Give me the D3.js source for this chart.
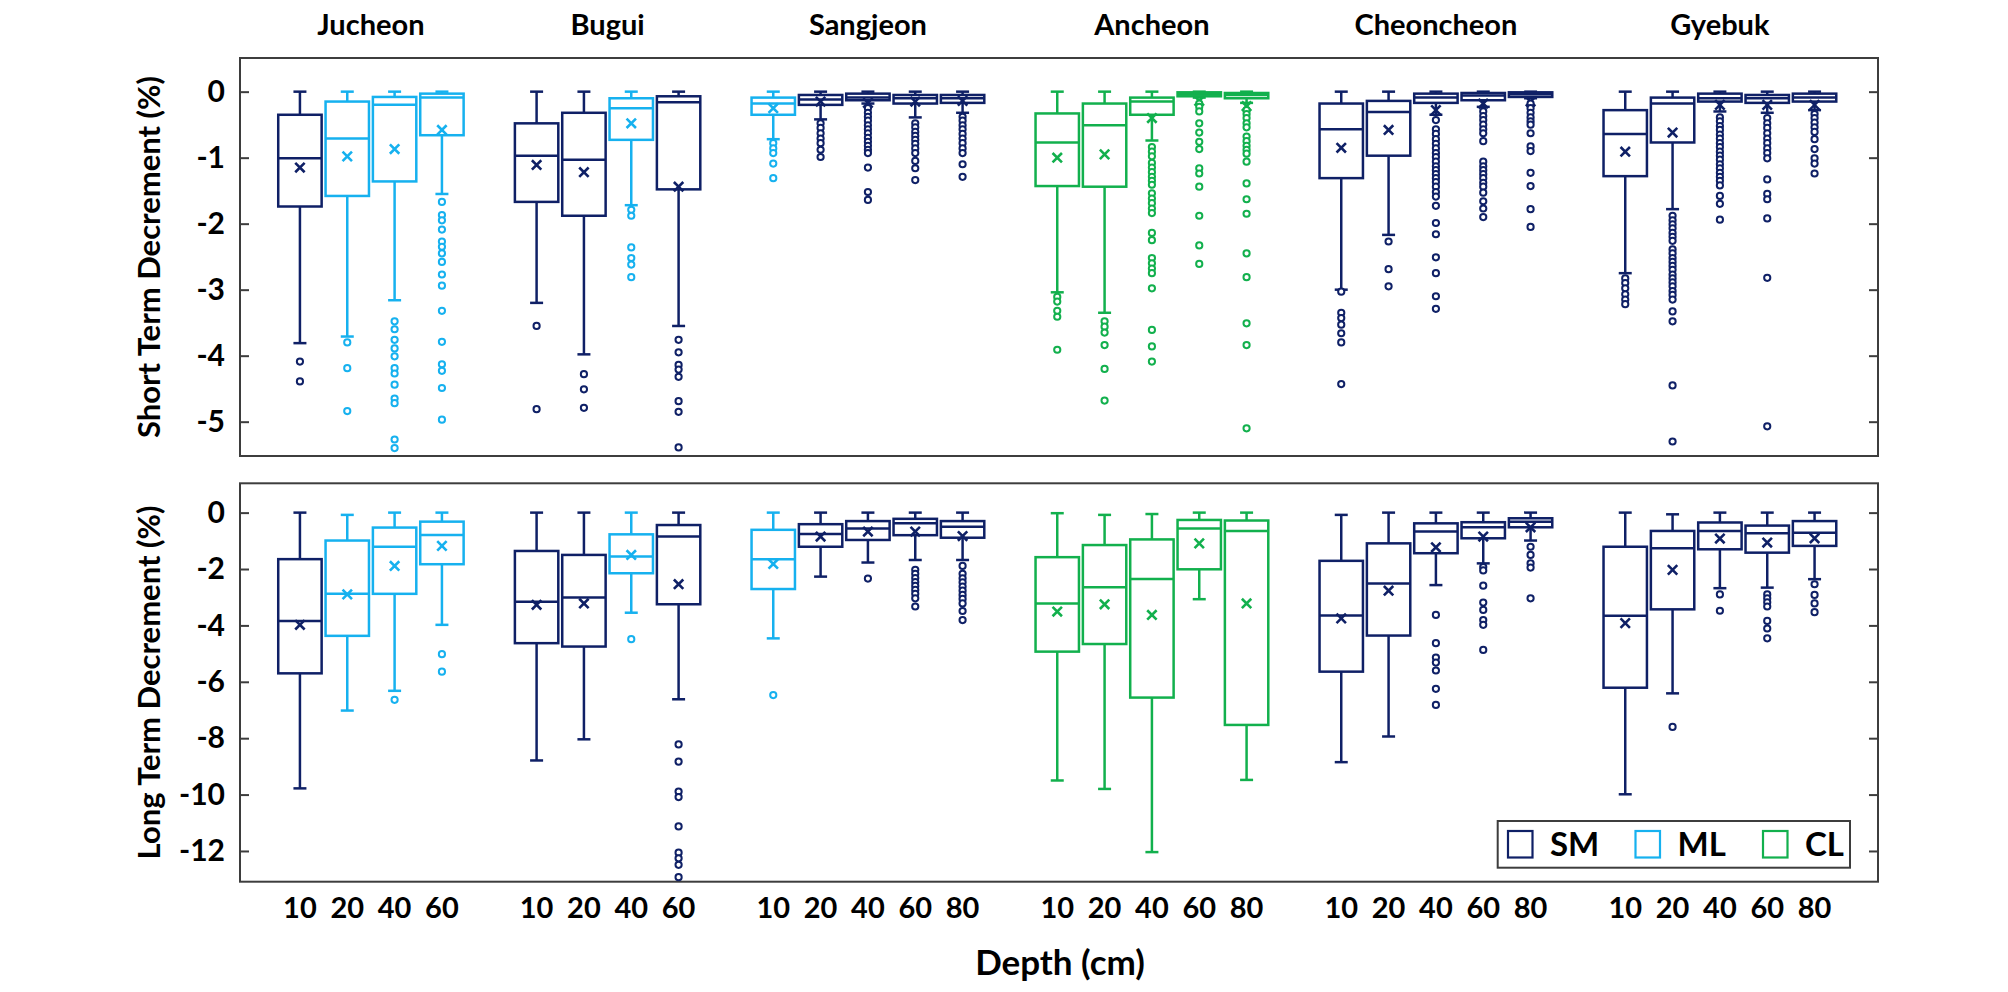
<!DOCTYPE html>
<html>
<head>
<meta charset="utf-8">
<script src="https://cdn.jsdelivr.net/npm/d3@7"></script>
<style>
  html, body { margin: 0; padding: 0; background: #fff; }
  svg text { font-family: Lato, "Open Sans", sans-serif; font-weight: 700; fill: #000; }
</style>
</head>
<body>
<svg id="chart" width="2008" height="992"></svg>
<script>
// ── Data ─────────────────────────────────
const sites = ['Jucheon', 'Bugui', 'Sangjeon', 'Ancheon', 'Cheoncheon', 'Gyebuk'];
const depths = [[10, 20, 40, 60], [10, 20, 40, 60], [10, 20, 40, 60, 80], [10, 20, 40, 60, 80], [10, 20, 40, 60, 80], [10, 20, 40, 60, 80]];
const soils = [
  ['SM', 'ML', 'ML', 'ML'],
  ['SM', 'SM', 'ML', 'SM'],
  ['ML', 'SM', 'SM', 'SM', 'SM'],
  ['CL', 'CL', 'CL', 'CL', 'CL'],
  ['SM', 'SM', 'SM', 'SM', 'SM'],
  ['SM', 'SM', 'SM', 'SM', 'SM']
];
const soilTypes = ['SM', 'ML', 'CL'];
const shortTicks = [0, -1, -2, -3, -4, -5];
const longTicks = [0, -2, -4, -6, -8, -10, -12];

// box stats: [upper whisker, Q3, median, Q1, lower whisker, mean]
const shortBoxes = [
  [0, -0.35, -1.01, -1.74, -3.81, -1.15], [0, -0.15, -0.71, -1.58, -3.71, -0.98], [0, -0.08, -0.20, -1.36, -3.16, -0.87], [0, -0.03, -0.09, -0.66, -1.55, -0.58],
  [0, -0.48, -0.97, -1.67, -3.20, -1.11], [0, -0.32, -1.03, -1.88, -3.98, -1.22], [0, -0.10, -0.25, -0.73, -1.72, -0.48], [0, -0.07, -0.16, -1.48, -3.55, -1.44],
  [0, -0.09, -0.18, -0.35, -0.72, -0.25], [0, -0.05, -0.12, -0.20, -0.42, -0.15], [0, -0.03, -0.09, -0.13, -0.18, -0.17], [0, -0.05, -0.10, -0.18, -0.39, -0.15], [0, -0.05, -0.10, -0.17, -0.32, -0.14],
  [0, -0.33, -0.77, -1.43, -3.04, -1.00], [0, -0.18, -0.51, -1.44, -3.35, -0.95], [0, -0.09, -0.15, -0.35, -0.74, -0.40], [0, -0.01, -0.04, -0.07, -0.09, -0.14], [0, -0.02, -0.05, -0.10, -0.17, -0.22],
  [0, -0.18, -0.57, -1.31, -3.00, -0.85], [0, -0.14, -0.31, -0.97, -2.17, -0.58], [0, -0.03, -0.09, -0.17, -0.35, -0.28], [0, -0.02, -0.06, -0.13, -0.23, -0.18], [0, -0.01, -0.04, -0.08, -0.10, -0.15],
  [0, -0.28, -0.64, -1.28, -2.75, -0.91], [0, -0.09, -0.18, -0.77, -1.78, -0.62], [0, -0.03, -0.10, -0.15, -0.30, -0.20], [0, -0.05, -0.10, -0.17, -0.32, -0.20], [0, -0.03, -0.09, -0.15, -0.28, -0.20]
];
const shortOutliers = [
  [-4.09, -4.39], [-3.80, -4.19, -4.84],
  [-3.48, -3.60, -3.76, -3.89, -4.01, -4.19, -4.27, -4.44, -4.65, -4.72, -5.27, -5.40],
  [-1.67, -1.87, -1.95, -2.09, -2.27, -2.35, -2.45, -2.58, -2.77, -2.94, -3.32, -3.79, -4.13, -4.23, -4.49, -4.97],
  [-3.55, -4.81], [-4.28, -4.51, -4.79], [-1.79, -1.88, -2.36, -2.52, -2.62, -2.81],
  [-3.76, -3.95, -4.14, -4.21, -4.32, -4.69, -4.85, -5.39],
  [-0.78, -0.86, -0.93, -1.09, -1.31],
  [-0.48, -0.55, -0.63, -0.71, -0.78, -0.88, -0.99],
  [-0.25, -0.32, -0.38, -0.44, -0.51, -0.57, -0.63, -0.70, -0.76, -0.82, -0.88, -0.93, -1.15, -1.52, -1.64],
  [-0.48, -0.54, -0.61, -0.67, -0.73, -0.79, -0.86, -0.93, -1.05, -1.16, -1.34],
  [-0.38, -0.44, -0.51, -0.57, -0.64, -0.71, -0.78, -0.86, -0.93, -1.10, -1.29],
  [-3.11, -3.18, -3.32, -3.41, -3.91],
  [-3.48, -3.56, -3.65, -3.84, -4.20, -4.68],
  [-0.84, -0.91, -0.98, -1.08, -1.15, -1.22, -1.29, -1.35, -1.41, -1.54, -1.62, -1.69, -1.77, -1.84, -2.14, -2.25, -2.52, -2.60, -2.68, -2.75, -2.98, -3.61, -3.86, -4.09],
  [-0.18, -0.23, -0.30, -0.48, -0.62, -0.76, -0.87, -1.16, -1.24, -1.44, -1.88, -2.33, -2.61],
  [-0.28, -0.34, -0.40, -0.48, -0.54, -0.68, -0.75, -0.82, -0.88, -0.94, -1.06, -1.39, -1.63, -1.85, -2.45, -2.81, -3.51, -3.84, -5.10],
  [-3.03, -3.35, -3.43, -3.53, -3.66, -3.80, -4.43],
  [-2.27, -2.69, -2.95],
  [-0.43, -0.57, -0.64, -0.72, -0.79, -0.86, -0.93, -0.99, -1.06, -1.13, -1.19, -1.25, -1.31, -1.37, -1.44, -1.52, -1.59, -1.73, -1.99, -2.16, -2.51, -2.75, -3.10, -3.29],
  [-0.30, -0.37, -0.43, -0.50, -0.57, -0.63, -0.75, -1.06, -1.13, -1.19, -1.25, -1.31, -1.38, -1.44, -1.53, -1.66, -1.77, -1.90],
  [-0.18, -0.25, -0.32, -0.39, -0.45, -0.50, -0.63, -0.83, -0.90, -1.23, -1.43, -1.78, -2.05],
  [-2.83, -2.90, -2.98, -3.07, -3.15, -3.22],
  [-1.88, -1.95, -2.01, -2.07, -2.14, -2.20, -2.26, -2.39, -2.45, -2.52, -2.58, -2.64, -2.70, -2.77, -2.83, -2.89, -2.95, -3.02, -3.08, -3.15, -3.33, -3.48, -4.45, -5.30],
  [-0.39, -0.45, -0.52, -0.58, -0.65, -0.71, -0.78, -0.84, -0.91, -0.97, -1.03, -1.10, -1.16, -1.23, -1.29, -1.35, -1.42, -1.58, -1.70, -1.94],
  [-0.40, -0.48, -0.55, -0.63, -0.71, -0.78, -0.86, -0.93, -1.01, -1.33, -1.55, -1.63, -1.92, -2.82, -5.07],
  [-0.34, -0.40, -0.47, -0.54, -0.61, -0.72, -0.87, -1.01, -1.09, -1.24]
];

const longBoxes = [
  [0, -1.65, -3.84, -5.70, -9.78, -3.98], [-0.08, -0.99, -2.88, -4.37, -7.02, -2.90], [0, -0.53, -1.21, -2.88, -6.32, -1.89], [0, -0.32, -0.79, -1.83, -3.98, -1.18],
  [0, -1.36, -3.16, -4.63, -8.79, -3.27], [0, -1.50, -3.01, -4.75, -8.04, -3.22], [0, -0.77, -1.56, -2.15, -3.55, -1.50], [0, -0.44, -0.85, -3.25, -6.62, -2.54],
  [0, -0.61, -1.65, -2.71, -4.46, -1.82], [0, -0.41, -0.76, -1.21, -2.27, -0.85], [0, -0.30, -0.56, -0.97, -1.77, -0.67], [0, -0.22, -0.38, -0.80, -1.68, -0.67], [0, -0.30, -0.50, -0.89, -1.68, -0.83],
  [-0.02, -1.58, -3.22, -4.93, -9.50, -3.51], [-0.08, -1.15, -2.65, -4.66, -9.80, -3.25], [-0.05, -0.95, -2.35, -6.56, -12.04, -3.63], [0, -0.26, -0.56, -2.01, -3.07, -1.09], [0, -0.28, -0.65, -7.53, -9.48, -3.22],
  [-0.08, -1.71, -3.65, -5.64, -8.85, -3.75], [0, -1.09, -2.51, -4.36, -7.94, -2.77], [0, -0.38, -0.67, -1.44, -2.57, -1.23], [0, -0.34, -0.52, -0.91, -1.80, -0.85], [0, -0.20, -0.32, -0.52, -0.99, -0.52],
  [0, -1.21, -3.66, -6.21, -9.99, -3.92], [-0.06, -0.65, -1.26, -3.43, -6.41, -2.03], [0, -0.35, -0.65, -1.30, -2.68, -0.92], [0, -0.46, -0.73, -1.42, -2.66, -1.06], [0, -0.30, -0.71, -1.18, -2.36, -0.91]
];
const longOutliers = [
  [], [], [-6.64], [-5.02, -5.64],
  [], [], [-4.49], [-8.22, -8.83, -9.89, -10.09, -11.13, -12.06, -12.26, -12.49, -12.93],
  [-6.47], [], [-2.34],
  [-2.03, -2.17, -2.32, -2.46, -2.60, -2.74, -2.88, -3.04, -3.33],
  [-1.89, -2.17, -2.33, -2.47, -2.62, -2.77, -2.92, -3.06, -3.22, -3.49, -3.81],
  [], [], [], [], [],
  [], [], [-3.63, -4.63, -5.14, -5.32, -5.60, -6.25, -6.82],
  [-1.93, -2.05, -2.59, -3.19, -3.45, -3.81, -3.98, -4.87],
  [-1.21, -1.50, -1.80, -1.95, -3.04],
  [], [-7.60], [-2.90, -3.48], [-2.90, -3.04, -3.18, -3.33, -3.84, -4.11, -4.46], [-2.54, -2.92, -3.22, -3.53]
];

// ── Setup ────────────────────────────────
const colors = { SM: '#0f2066', ML: '#16b1ef', CL: '#12b04d' };
const frameColor = '#3d3d3d';
const L = 240, R = 1878;

const svg = d3.select('#chart');

// flat box list with slot keys (one empty slot between sites)
const boxes = [];
const slotKeys = [];
sites.forEach((s, si) => {
  depths[si].forEach((d, di) => {
    const key = s + '-' + d;
    slotKeys.push(key);
    boxes.push({ key, site: s, depth: d, soil: soils[si][di] });
  });
  if (si < sites.length - 1) slotKeys.push('gap-' + si);
});

const x = d3.scaleBand().domain(slotKeys).range([238, 1876.5]).paddingInner(0.083).paddingOuter(0.85);
const bw = x.bandwidth();

const panels = [
  { top: 58, bottom: 456, domain: [-5.52, 0.51], ticks: shortTicks, stats: shortBoxes, outs: shortOutliers, title: 'Short Term Decrement (%)' },
  { top: 483.3, bottom: 881.7, domain: [-13.09, 1.04], ticks: longTicks, stats: longBoxes, outs: longOutliers, title: 'Long Term Decrement (%)' }
];

panels.forEach((p, pi) => {
  const y = d3.scaleLinear().domain(p.domain).range([p.bottom, p.top]);
  const g = svg.append('g');

  // frame
  g.append('rect').attr('x', L).attr('y', p.top).attr('width', R - L).attr('height', p.bottom - p.top)
    .attr('fill', 'none').attr('stroke', frameColor).attr('stroke-width', 2);

  // axes
  const ax = g.append('g').attr('transform', `translate(${L},0)`)
    .call(d3.axisLeft(y).tickValues(p.ticks).tickFormat(d => String(d)).tickSizeInner(-9).tickSizeOuter(0).tickPadding(15));
  ax.select('.domain').remove();
  ax.selectAll('line').attr('stroke', frameColor).attr('stroke-width', 2);
  ax.selectAll('text').attr('font-size', 30).style('font-family', 'Lato').style('font-weight', 700).attr('fill', '#000');

  const axr = g.append('g').attr('transform', `translate(${R},0)`)
    .call(d3.axisRight(y).tickValues(p.ticks).tickFormat('').tickSizeInner(-9).tickSizeOuter(0));
  axr.select('.domain').remove();
  axr.selectAll('line').attr('stroke', frameColor).attr('stroke-width', 2);

  // y title
  g.append('text')
    .attr('transform', `translate(149,${(p.top + p.bottom) / 2}) rotate(-90)`)
    .attr('text-anchor', 'middle').attr('dy', '0.35em')
    .attr('font-size', 31).text(p.title);

  // boxes
  const bx = g.selectAll('.box').data(boxes).join('g').attr('class', 'box')
    .attr('stroke', d => colors[d.soil]).attr('fill', 'none');

  bx.each(function (d, i) {
    const s = p.stats[i];
    const cx = x(d.key) + bw / 2;
    const el = d3.select(this);
    const cap = 6.5;
    // whiskers
    el.append('line').attr('x1', cx).attr('x2', cx).attr('y1', y(s[0])).attr('y2', y(s[1])).attr('stroke-width', 2.5);
    el.append('line').attr('x1', cx).attr('x2', cx).attr('y1', y(s[3])).attr('y2', y(s[4])).attr('stroke-width', 2.5);
    el.append('line').attr('x1', cx - cap).attr('x2', cx + cap).attr('y1', y(s[0])).attr('y2', y(s[0])).attr('stroke-width', 2.5);
    el.append('line').attr('x1', cx - cap).attr('x2', cx + cap).attr('y1', y(s[4])).attr('y2', y(s[4])).attr('stroke-width', 2.5);
    // box
    el.append('rect').attr('x', x(d.key)).attr('width', bw)
      .attr('y', y(s[1])).attr('height', Math.max(0.5, y(s[3]) - y(s[1])))
      .attr('stroke-width', 2.5);
    el.append('line').attr('x1', x(d.key)).attr('x2', x(d.key) + bw).attr('y1', y(s[2])).attr('y2', y(s[2])).attr('stroke-width', 2.5);
    // mean
    const my = y(s[5]), m = 4.7;
    el.append('path').attr('d', `M${cx - m},${my - m}L${cx + m},${my + m}M${cx + m},${my - m}L${cx - m},${my + m}`)
      .attr('stroke-width', 2.6);
    // outliers
    el.selectAll('circle').data(p.outs[i]).join('circle')
      .attr('cx', cx).attr('cy', v => y(v)).attr('r', 3.1)
      .attr('fill', '#fff').attr('stroke-width', 2);
  });

  if (pi === 1) {
    // depth labels
    const xa = svg.append('g').attr('transform', `translate(0,${p.bottom})`)
      .call(d3.axisBottom(x).tickValues(boxes.map(b => b.key)).tickFormat(k => k.split('-')[1]).tickSize(0).tickPadding(16));
    xa.select('.domain').remove();
    xa.selectAll('text').attr('font-size', 29).style('font-family', 'Lato').style('font-weight', 700).attr('fill', '#000');

    // legend
    const lg = svg.append('g');
    lg.append('rect').attr('x', 1497.7).attr('y', 821).attr('width', 352.3).attr('height', 46.7)
      .attr('fill', '#fff').attr('stroke', frameColor).attr('stroke-width', 2);
    const lx = d3.scalePoint().domain(soilTypes).range([1508, 1763]);
    soilTypes.forEach(t => {
      lg.append('rect').attr('x', lx(t)).attr('y', 831).attr('width', 24.5).attr('height', 26.5)
        .attr('fill', 'none').attr('stroke', colors[t]).attr('stroke-width', 2.2);
      lg.append('text').attr('x', lx(t) + 42).attr('y', 856).attr('font-size', 33).text(t);
    });
  }
});

// site titles
sites.forEach((s, si) => {
  const first = x(s + '-' + depths[si][0]);
  const last = x(s + '-' + depths[si][depths[si].length - 1]) + bw;
  svg.append('text').attr('x', (first + last) / 2).attr('y', 35).attr('text-anchor', 'middle')
    .attr('font-size', 29).text(s);
});

// x title
svg.append('text').attr('x', 1060).attr('y', 975).attr('text-anchor', 'middle').attr('font-size', 35).text('Depth (cm)');
</script>
</body>
</html>
